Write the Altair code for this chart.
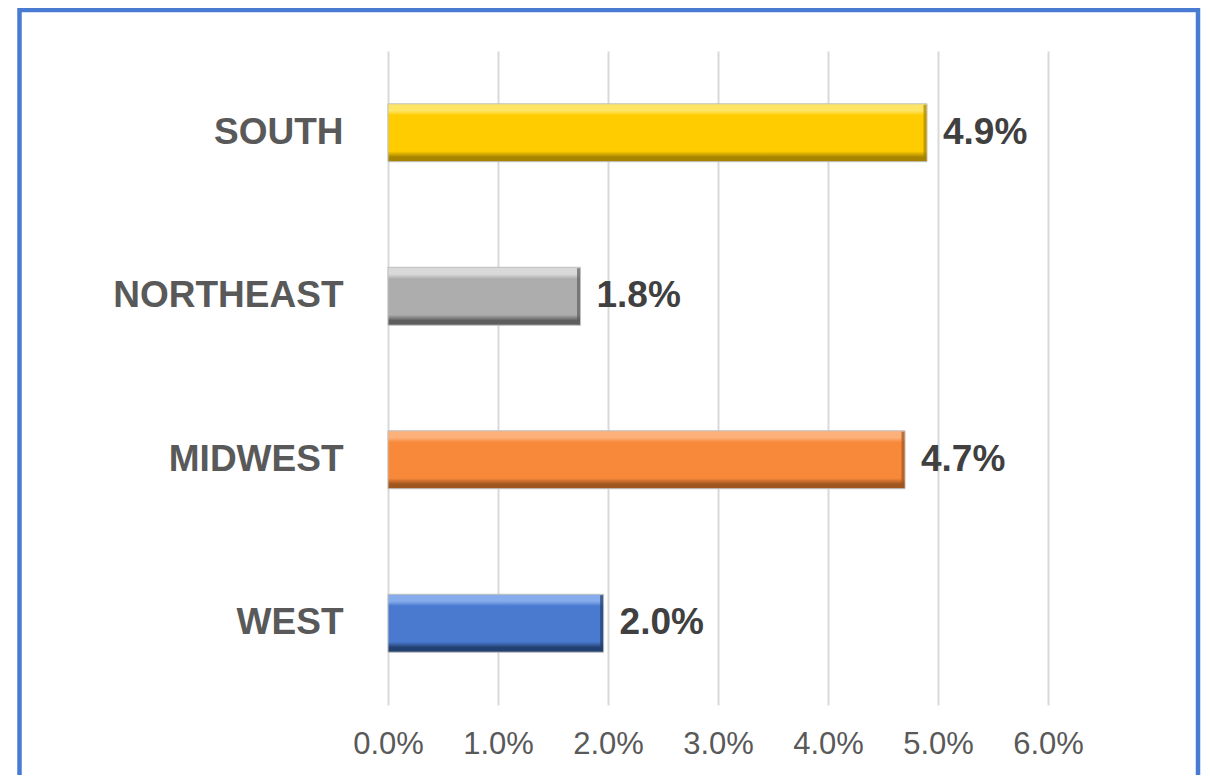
import altair as alt
import pandas as pd

# ---- data ----
regions = ["SOUTH", "NORTHEAST", "MIDWEST", "WEST"]
values = [0.049, 0.0175, 0.047, 0.0196]
value_labels = ["4.9%", "1.8%", "4.7%", "2.0%"]
x_ticks = [0.0, 0.01, 0.02, 0.03, 0.04, 0.05, 0.06]

main_colors = ["#FFCC00", "#ADADAD", "#F8883A", "#4A7ACF"]
light_colors = ["#FFE566", "#D9D9D9", "#FCB07A", "#86ACEC"]
dark_colors = ["#A68400", "#5E5E5E", "#A0561F", "#22406F"]

df = pd.DataFrame({"region": regions, "value": values, "label": value_labels})

FONT = "Liberation Sans"

y_enc = alt.Y(
    "region:N",
    sort=regions,
    scale=alt.Scale(paddingInner=0.646, paddingOuter=0.323),
    axis=alt.Axis(
        title=None,
        domain=False,
        ticks=False,
        labelFont=FONT,
        labelFontSize=37,
        labelFontWeight="bold",
        labelColor="#595959",
        labelPadding=45,
        labelLimit=400,
    ),
)
x_enc = alt.X(
    "value:Q",
    scale=alt.Scale(domain=[0, 0.06], nice=False, zero=True),
    axis=alt.Axis(
        title=None,
        values=x_ticks,
        format=".1%",
        domain=False,
        ticks=False,
        grid=True,
        gridColor="#D9D9D9",
        gridWidth=2,
        labelFont=FONT,
        labelFontSize=31,
        labelColor="#595959",
        labelPadding=24,
        labelFlush=False,
    ),
)

base = alt.Chart(df)

layers = []
for i, r in enumerate(regions):
    grad = alt.LinearGradient(
        gradient="linear",
        x1=0, y1=0, x2=0, y2=1,
        stops=[
            alt.GradientStop(offset=0.0, color=light_colors[i]),
            alt.GradientStop(offset=0.12, color=light_colors[i]),
            alt.GradientStop(offset=0.2, color=main_colors[i]),
            alt.GradientStop(offset=0.82, color=main_colors[i]),
            alt.GradientStop(offset=0.92, color=dark_colors[i]),
            alt.GradientStop(offset=1.0, color=dark_colors[i]),
        ],
    )
    bar = base.transform_filter(alt.datum.region == r).mark_bar(
        color=grad, stroke="#BFBFBF", strokeWidth=1
    ).encode(x=x_enc, y=y_enc)
    end = base.transform_filter(alt.datum.region == r).mark_tick(
        orient="vertical", thickness=3, size=56, xOffset=-2, color=dark_colors[i]
    ).encode(x=x_enc, y=y_enc)
    layers += [bar, end]

text = base.mark_text(
    align="left",
    baseline="middle",
    dx=16,
    font=FONT,
    fontSize=37,
    fontWeight="bold",
    color="#404040",
).encode(x=x_enc, y=y_enc, text="label:N")

border = alt.Chart(alt.Data(values=[{}])).mark_rect(
    filled=False, stroke="#4A7BD3", strokeWidth=4.5
).encode(
    x=alt.value(-368.5), x2=alt.value(810), y=alt.value(-41), y2=alt.value(780)
)

chart = alt.layer(*layers, text, border).properties(
    width=660,
    height=654,
    autosize=alt.AutoSizeParams(type="none"),
    padding={"left": 380, "top": 43, "right": 155, "bottom": 70},
    background="white",
).configure_view(stroke=None)

chart.save("out.html", embed_options={"renderer": "svg", "actions": False})
